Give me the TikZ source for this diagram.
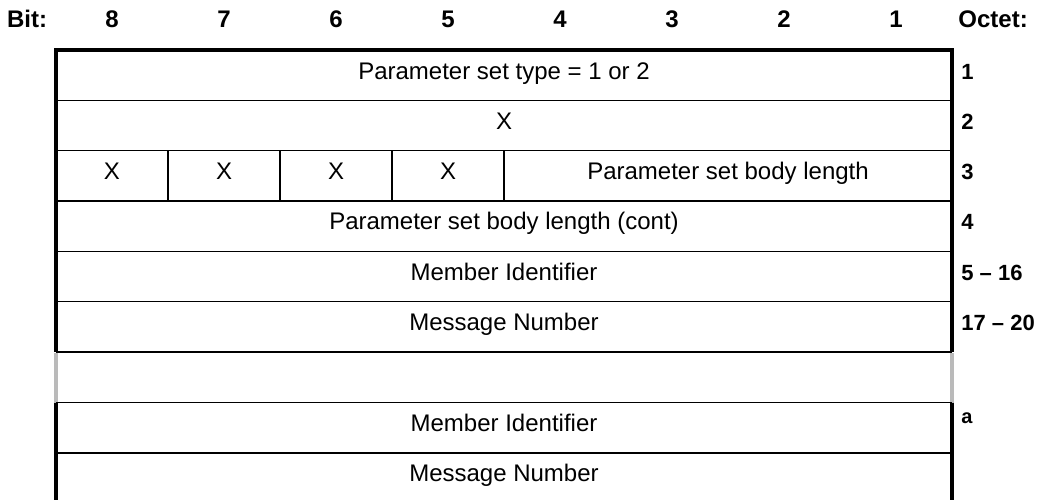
\documentclass[tikz,border=0pt]{standalone}
\usepackage{fontspec}
\setmainfont{Liberation Sans}
\usepackage{tikz}
\usetikzlibrary{positioning}

\begin{document}
\begin{tikzpicture}[
  x=0.5pt, y=-0.5pt,
  hdr/.style={font=\bfseries\fontsize{12}{14}\selectfont, inner sep=0pt, anchor=base},
  oct/.style={font=\bfseries\fontsize{11}{13}\selectfont, anchor=base west, inner sep=0pt},
  cell/.style={font=\fontsize{12}{14}\selectfont, inner sep=0pt, anchor=base},
  frame/.style={line width=2pt},
  rule/.style={line width=0.6pt},
  gap/.style={line width=2pt, draw=black!27}
]
\useasboundingbox (0,0) rectangle (1042,500);

% header
\node[hdr] (bit) at (27,27) {Bit:};
\foreach \b in {1,...,8}
  \node[hdr] (bit\b) at ({112*(8-\b)+112},27) {\b};
\node[hdr, anchor=base west] (octet) at (958,27) {Octet:};

% first block
\draw[rule] (56,100.3) -- (952,100.3)
            (56,150.6) -- (952,150.6)
            (56,200.9) -- (952,200.9)
            (56,251.2) -- (952,251.2)
            (56,301.5) -- (952,301.5);
\foreach \c in {168,280,392,504}
  \draw[rule] (\c,150.6) -- (\c,200.9);
\draw[line width=1pt] (56,352) -- (952,352);
\draw[frame] (56,352) -- (56,50) -- (952,50) -- (952,352);

\node[cell] (r1) at (504,79) {Parameter set type = 1 or 2};
\node[cell] (r2) at (504,129.3) {X};
\foreach \c [count=\i] in {112,224,336,448}
  \node[cell] (x\i) at (\c,179.6) {X};
\node[cell] (r3) at (728,179.6) {Parameter set body length};
\node[cell] (r4) at (504,229.9) {Parameter set body length (cont)};
\node[cell] (r5) at (504,280.2) {Member Identifier};
\node[cell] (r6) at (504,330.5) {Message Number};

\node[oct] (o1) at (961,79) {1};
\node[oct] (o2) at (961,129.3) {2};
\node[oct] (o3) at (961,179.6) {3};
\node[oct] (o4) at (961,229.9) {4};
\node[oct] (o5) at (961,280.2) {5 -- 16};
\node[oct] (o6) at (961,330.5) {17 -- 20};

% gap
\draw[gap] (56,352.5) -- (56,402.5);
\draw[gap] (952,352.5) -- (952,402.5);

% second block
\draw[rule] (56,402.5) -- (952,402.5)
            (56,453) -- (952,453);
\draw[frame] (56,402.5) -- (56,500);
\draw[frame] (952,402.5) -- (952,500);

\node[cell] (r7) at (504,431) {Member Identifier};
\node[cell] (r8) at (504,481.5) {Message Number};
\node[oct, font=\bfseries\fontsize{10}{11}\selectfont] (oa) at (961,423) {a};
\end{tikzpicture}
\end{document}
